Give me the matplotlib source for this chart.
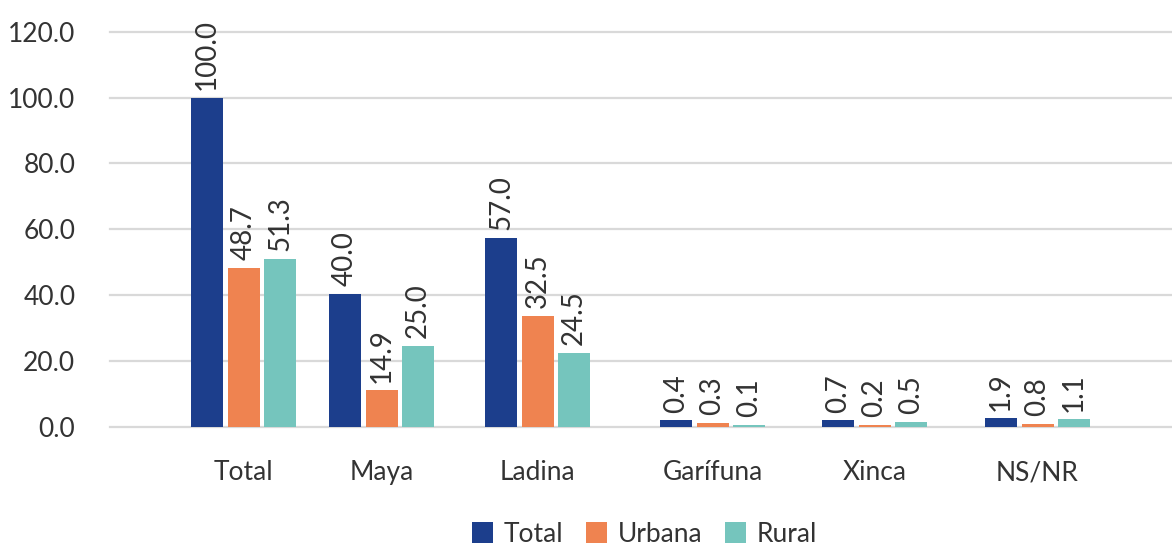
import matplotlib
matplotlib.use("Agg")
import matplotlib.pyplot as plt
import numpy as np

# ==================== データ ====================
CATEGORIES = ["Total", "Maya", "Ladina", "Garífuna", "Xinca", "NS/NR"]
SERIES = ["Total", "Urbana", "Rural"]

# bar heights as drawn in the reference
TOTAL_H  = [100.0, 40.4, 57.4, 2.0, 2.0, 2.6]
URBANA_H = [48.3, 11.1, 33.7, 1.2, 0.5, 0.9]
RURAL_H  = [51.1, 24.6, 22.5, 0.5, 1.4, 2.3]

# printed data labels
TOTAL_LBL  = ["100.0", "40.0", "57.0", "0.4", "0.7", "1.9"]
URBANA_LBL = ["48.7", "14.9", "32.5", "0.3", "0.2", "0.8"]
RURAL_LBL  = ["51.3", "25.0", "24.5", "0.1", "0.5", "1.1"]

YTICKS = [0, 20, 40, 60, 80, 100, 120]

# ==================== レイアウト ====================
# group centres along the x axis (the source spaces them unevenly)
GROUP_X = np.array([243.5, 381.5, 537.5, 712.5, 874.5, 1037.5])
XLIM = (110, 1172)
BAR_W = 32
BAR_STEP = 36.5

COLORS = ["#1C3E8C", "#EF8350", "#75C5BD"]
TEXT_COLOR = "#333333"
GRID_COLOR = "#D9D9D9"

plt.rcParams["font.family"] = ["Lato", "DejaVu Sans"]

fig = plt.figure(figsize=(11.72, 5.45), dpi=100)
ax = fig.add_axes([0.0939, 0.217, 0.9061, 0.7248])

heights = [TOTAL_H, URBANA_H, RURAL_H]
labels = [TOTAL_LBL, URBANA_LBL, RURAL_LBL]

for i, (name, h, lbl, c) in enumerate(zip(SERIES, heights, labels, COLORS)):
    xs = GROUP_X + (i - 1) * BAR_STEP
    ax.bar(xs, h, width=BAR_W, color=c, label=name, zorder=2)
    for xi, hi, t in zip(xs, h, lbl):
        ax.annotate(t, (xi, hi), xytext=(0, 5.5), textcoords="offset points",
                    rotation=90, ha="center", va="bottom",
                    fontsize=20, color=TEXT_COLOR, zorder=3)

for yv in YTICKS:
    ax.axhline(yv, color=GRID_COLOR, linewidth=1.6, zorder=0, clip_on=False)

ax.set_ylim(0, 120)
ax.set_xlim(XLIM)
ax.set_yticks(YTICKS)
ax.set_yticklabels([f"{v:.1f}" for v in YTICKS], fontsize=19, color=TEXT_COLOR)
ax.set_xticks(GROUP_X)
ax.set_xticklabels(CATEGORIES, fontsize=19, color=TEXT_COLOR)
ax.tick_params(axis="y", length=0, pad=25)
ax.tick_params(axis="x", length=0, pad=24)
for s in ax.spines.values():
    s.set_visible(False)

fig.legend(loc="center", bbox_to_anchor=(0.55, 0.02), ncol=3, frameon=False,
           fontsize=19, handlelength=0.8, handleheight=0.8,
           handletextpad=0.4, columnspacing=0.85, labelcolor=TEXT_COLOR)

fig.savefig("out.png", dpi=100, facecolor="white")
